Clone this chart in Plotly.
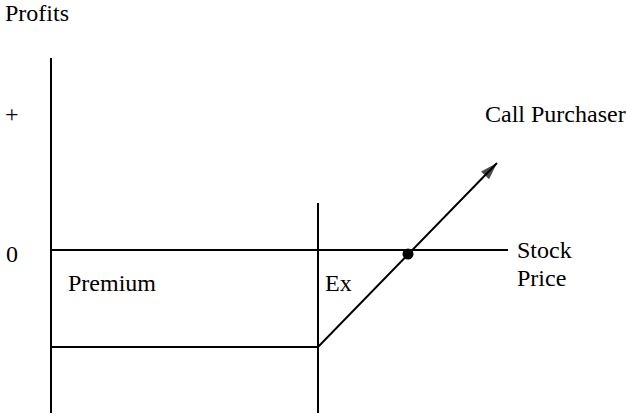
import plotly.graph_objects as go

# Diagram coordinates: x = stock price axis, y = profit (0 = break-even line)
profit_axis_x = [0, 0]
profit_axis_y = [192, -163]
price_axis_x = [0, 457]
price_axis_y = [0, 0]
exercise_x = [267, 267]
exercise_y = [47, -163]
payoff_x = [0, 267, 446]
payoff_y = [-97, -97, 87]
breakeven_x = [357]
breakeven_y = [-4]

labels = ["Profits", "+", "0", "Premium", "Ex", "Stock", "Price", "Call Purchaser"]
label_x = [-48, -48, -47, 15, 272, 464, 464, 432]
label_baseline_y = [230, 129, -11, -40, -40, -7, -35, 129]

FS = 24
FONT = "Liberation Serif"
line_style = dict(color="black", width=2)

fig = go.Figure()
fig.add_trace(go.Scatter(x=profit_axis_x, y=profit_axis_y, mode="lines", line=line_style))
fig.add_trace(go.Scatter(x=price_axis_x, y=price_axis_y, mode="lines", line=line_style))
fig.add_trace(go.Scatter(x=exercise_x, y=exercise_y, mode="lines", line=line_style))
fig.add_trace(go.Scatter(
    x=payoff_x, y=payoff_y, mode="lines+markers", line=line_style,
    marker=dict(symbol="arrow", angleref="previous", size=[0, 0, 18], color="black",
                line=dict(width=0)),
))
fig.add_trace(go.Scatter(x=breakeven_x, y=breakeven_y, mode="markers",
                         marker=dict(size=11, color="black")))

for t, x, yb in zip(labels, label_x, label_baseline_y):
    fig.add_annotation(x=x, y=yb + 0.3 * FS, text=t, showarrow=False,
                       xanchor="left", yanchor="middle",
                       font=dict(family=FONT, size=FS, color="black"))

fig.update_layout(
    width=626, height=417,
    margin=dict(l=0, r=0, t=0, b=0),
    paper_bgcolor="white", plot_bgcolor="white",
    showlegend=False,
    hovermode=False,
    xaxis=dict(range=[-51, 575], visible=False, fixedrange=True),
    yaxis=dict(range=[-167, 250], visible=False, fixedrange=True),
)
fig.write_html(
    "out.html",
    config={"displayModeBar": False},
    post_script="document.body.style.margin='0';document.body.style.overflow='hidden';",
)
